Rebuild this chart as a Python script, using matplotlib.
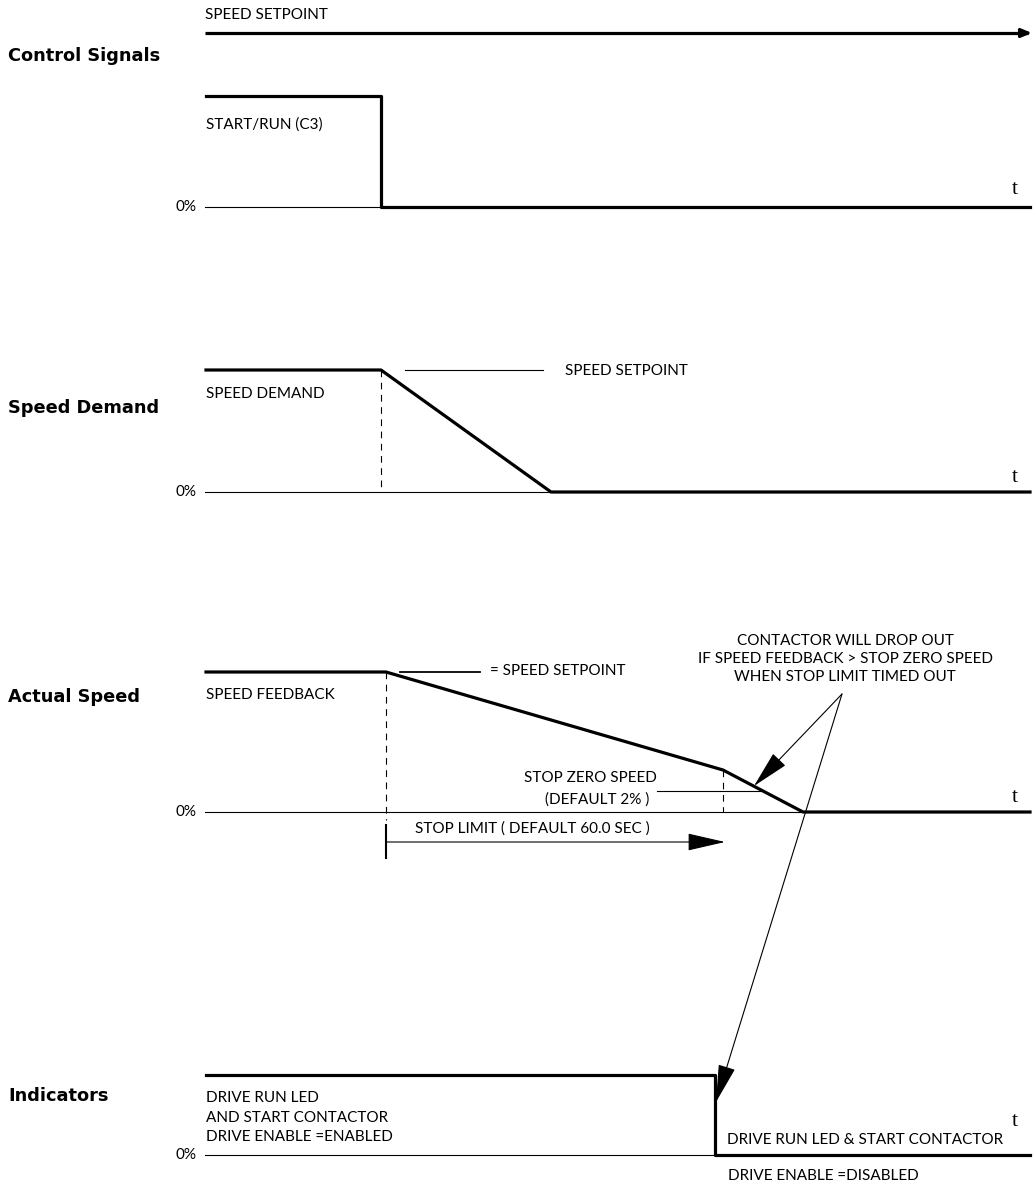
import matplotlib
matplotlib.use("Agg")
import matplotlib.pyplot as plt

# Signal traces: time (drawing units along the time axis) and level in % of full
run_t = [206, 381, 381, 1030]
run_level = [100, 100, 0, 0]
demand_t = [206, 381, 551, 1030]
demand_level = [100, 100, 0, 0]
feedback_t = [206, 386, 723, 803, 1030]
feedback_level = [100, 100, 30, 0, 0]
led_t = [206, 715, 715, 1030]
led_level = [100, 100, 0, 0]

stop_time = 386
stop_limit_end = 725
zero_speed_time = 723
zero_speed_level = 15

headings = ["Control Signals", "Speed Demand", "Actual Speed", "Indicators"]

# panel layout: baseline (y of 0%) and height of the 100% level
panels = {
    "control": (207, 111),
    "demand": (492, 122),
    "actual": (812, 140),
    "indic": (1155, 80),
}

FONT = "Lato"
SIZE = 11
THICK = 2.3
THIN = 0.8


def to_y(panel, level):
    base, h = panels[panel]
    return [base - v / 100 * h for v in level]


fig = plt.figure(figsize=(10.34, 11.87), dpi=100)
ax = fig.add_axes([0, 0, 1, 1])
ax.set_xlim(0, 1034)
ax.set_ylim(1187, 0)
ax.axis("off")


def txt(x, y, s, size=SIZE, ha="left", family=FONT, **kw):
    ax.text(x, y, s, fontsize=size, ha=ha, va="center", family=family, **kw)


def arrow(start, tip, hl=2.4, hw=0.55, lw=THIN):
    ax.annotate("", xy=tip, xytext=start,
                arrowprops=dict(arrowstyle=f"-|>,head_length={hl},head_width={hw}",
                                lw=lw, color="black", shrinkA=0, shrinkB=0,
                                mutation_scale=10))


# headings
for name, y in zip(headings, [56, 408, 697, 1096]):
    txt(8, y, name, size=12.8, family="DejaVu Sans", fontweight="bold")

# baselines, 0% and t labels
for key, ty in zip(panels, [189, 477, 797, 1122]):
    base = panels[key][0]
    ax.plot([205, 1030], [base, base], color="black", lw=THIN)
    txt(197, base, "0%", ha="right")
    ax.text(1015, ty, "t", fontsize=16, ha="center", va="center", family="Liberation Serif")

# ---- Control signals
ax.plot([205, 1028], [33, 33], color="black", lw=THICK, solid_capstyle="butt")
arrow((1020, 33), (1032, 33), hl=0.6, hw=0.25, lw=THICK)
txt(205, 15, "SPEED SETPOINT")
ax.plot(run_t, to_y("control", run_level), color="black", lw=THICK)
txt(206, 125, "START/RUN (C3)")

# ---- Speed demand
dy = to_y("demand", demand_level)
ax.plot(demand_t, dy, color="black", lw=THICK)
ax.plot([demand_t[1], demand_t[1]], [dy[1], panels["demand"][0]], color="black",
        lw=THIN, ls=(0, (6, 5)))
ax.plot([405, 543], [dy[1], dy[1]], color="black", lw=THIN)
txt(565, 371, "SPEED SETPOINT")
txt(206, 394, "SPEED DEMAND")

# ---- Actual speed
fy = to_y("actual", feedback_level)
ax.plot(feedback_t, fy, color="black", lw=THICK)
ax.plot([stop_time, stop_time], [fy[1], 820], color="black", lw=THIN, ls=(0, (6, 5)))
ax.plot([400, 480], [fy[1], fy[1]], color="black", lw=THIN * 1.6)
txt(490, 671, "= SPEED SETPOINT")
txt(206, 695, "SPEED FEEDBACK")
ax.plot([zero_speed_time, zero_speed_time], [fy[2], panels["actual"][0]],
        color="black", lw=THIN, ls=(0, (6, 5)))
zy = to_y("actual", [zero_speed_level])[0]
ax.plot([657, 763], [zy, zy], color="black", lw=THIN)
txt(657, 778, "STOP ZERO SPEED", ha="right")
txt(649, 800, "(DEFAULT 2% )", ha="right")

# stop limit timer
ax.plot([stop_time, stop_time], [825, 858], color="black", lw=1.5)
arrow((stop_time, 842), (stop_limit_end, 842))
txt(415, 829, "STOP LIMIT ( DEFAULT 60.0 SEC )")

# contactor note
for y, s in zip([641, 659, 677], ["CONTACTOR WILL DROP OUT",
                                  "IF SPEED FEEDBACK > STOP ZERO SPEED",
                                  "WHEN STOP LIMIT TIMED OUT"]):
    txt(845, y, s, ha="center")
arrow((842, 694), (754, 786))
arrow((842, 694), (716, 1102))

# ---- Indicators
ax.plot(led_t, to_y("indic", led_level), color="black", lw=THICK)
txt(206, 1098, "DRIVE RUN LED")
txt(206, 1118, "AND START CONTACTOR")
txt(206, 1137, "DRIVE ENABLE =ENABLED")
txt(727, 1140, "DRIVE RUN LED & START CONTACTOR")
txt(728, 1176, "DRIVE ENABLE =DISABLED")

fig.savefig("out.png", dpi=100, facecolor="white")
